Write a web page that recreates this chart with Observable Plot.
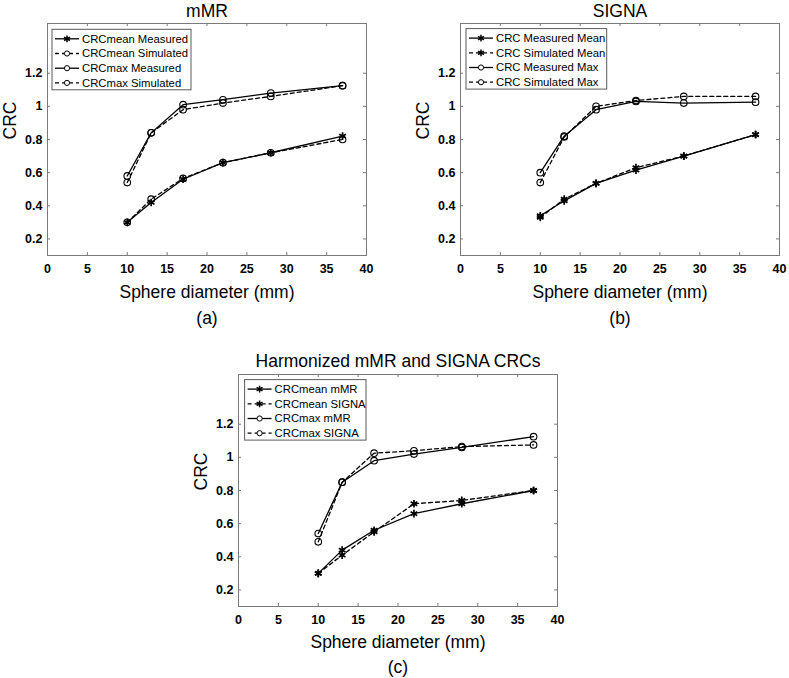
<!DOCTYPE html>
<html><head><meta charset="utf-8">
<script src="https://cdn.jsdelivr.net/npm/d3@7"></script>
<script src="https://cdn.jsdelivr.net/npm/@observablehq/plot@0.6"></script>
<style>
body{margin:0;background:#fff;font-family:"Liberation Sans",Arial,Helvetica,sans-serif;}
#wrap{position:relative;width:789px;height:678px;overflow:hidden;background:#fff;}
.panel{position:absolute;}
.panel svg{overflow:visible;font-family:"Liberation Sans",Arial,Helvetica,sans-serif;}
.panel svg g.legend text{text-anchor:start;}
</style></head><body><div id="wrap"></div>
<script>
// ---- shared axis values ----
const diameters = [10, 13, 17, 22, 28, 37];
const xTicks = [0, 5, 10, 15, 20, 25, 30, 35, 40];
const yTicks = [0.2, 0.4, 0.6, 0.8, 1, 1.2];

// ---- (a) mMR ----
const titleA = "mMR";
const labelsA = ["CRCmean Measured", "CRCmean Simulated", "CRCmax Measured", "CRCmax Simulated"];
const mmrMeanMeasured  = [0.30, 0.42, 0.56, 0.66, 0.72, 0.82];
const mmrMeanSimulated = [0.30, 0.44, 0.565, 0.66, 0.72, 0.80];
const mmrMaxMeasured   = [0.58, 0.84, 1.01, 1.04, 1.08, 1.125];
const mmrMaxSimulated  = [0.54, 0.84, 0.98, 1.02, 1.06, 1.125];

// ---- (b) SIGNA ----
const titleB = "SIGNA";
const labelsB = ["CRC Measured Mean", "CRC Simulated Mean", "CRC Measured Max", "CRC Simulated Max"];
const signaMeanMeasured  = [0.34, 0.43, 0.535, 0.615, 0.70, 0.83];
const signaMeanSimulated = [0.33, 0.44, 0.535, 0.63, 0.70, 0.83];
const signaMaxMeasured   = [0.60, 0.82, 0.98, 1.03, 1.02, 1.025];
const signaMaxSimulated  = [0.54, 0.815, 1.00, 1.035, 1.06, 1.06];

// ---- (c) Harmonized ----
const titleC = "Harmonized mMR and SIGNA CRCs";
const labelsC = ["CRCmean mMR", "CRCmean SIGNA", "CRCmax mMR", "CRCmax SIGNA"];
const harmMeanMMR   = [0.30, 0.44, 0.56, 0.66, 0.72, 0.80];
const harmMeanSIGNA = [0.30, 0.41, 0.55, 0.72, 0.74, 0.80];
const harmMaxMMR    = [0.54, 0.85, 0.98, 1.02, 1.06, 1.125];
const harmMaxSIGNA  = [0.49, 0.85, 1.025, 1.04, 1.065, 1.075];

const xLabel = "Sphere diameter (mm)";
const yLabel = "CRC";

const FONT = '"Liberation Sans",Arial,Helvetica,sans-serif';
const frameColor = "#7a7a7a";

function makePanel(cfg) {
  const {left, top, width, height, mL, mR, mT, mB, title, caption, series, legend, titleDy, xLabelDy, captionDy} = cfg;
  const fw = width - mL - mR, fh = height - mT - mB;
  const marks = [
    Plot.frame({stroke: frameColor, strokeWidth: 1}),
    // inward ticks on all four sides
    Plot.tickX(xTicks, {x: d => d, stroke: frameColor, insetTop: fh - 3}),
    Plot.tickX(xTicks, {x: d => d, stroke: frameColor, insetBottom: fh - 3}),
    Plot.tickY(yTicks, {y: d => d, stroke: frameColor, insetLeft: fw - 3}),
    Plot.tickY(yTicks, {y: d => d, stroke: frameColor, insetRight: fw - 3}),
    // bold tick labels
    Plot.text(xTicks, {x: d => d, text: d => String(d), frameAnchor: "bottom", dy: 13, fontSize: 12.5, fontWeight: "bold", lineAnchor: "middle"}),
    Plot.text(yTicks, {y: d => d, text: d => String(d), frameAnchor: "left", dx: -5, textAnchor: "end", fontSize: 12.5, fontWeight: "bold", lineAnchor: "middle"}),
    Plot.text([title], {text: d => d, frameAnchor: "top", dy: titleDy, fontSize: 17.5, lineAnchor: "middle"}),
    Plot.text([xLabel], {text: d => d, frameAnchor: "bottom", dy: xLabelDy, fontSize: 17.5, lineAnchor: "middle"}),
    Plot.text([caption], {text: d => d, frameAnchor: "bottom", dy: captionDy, fontSize: 17.5, lineAnchor: "middle"}),
    Plot.text([yLabel], {text: d => d, frameAnchor: "left", dx: -37, rotate: -90, fontSize: 17.5, lineAnchor: "middle"})
  ];
  for (const s of series) {
    const rows = diameters.map((d, i) => ({d, v: s.values[i]}));
    marks.push(Plot.line(rows, {x: "d", y: "v", stroke: "black", strokeWidth: 1.3, strokeDasharray: s.dashed ? "4,3" : null}));
  }
  for (const s of series) {
    const rows = diameters.map((d, i) => ({d, v: s.values[i]}));
    if (s.symbol === "asterisk") {
      marks.push(Plot.dot(rows, {x: "d", y: "v", symbol: "asterisk", r: 3.6, stroke: "black", strokeWidth: 1.7, fill: "none"}));
    } else {
      marks.push(Plot.dot(rows, {x: "d", y: "v", symbol: "circle", r: 3.3, stroke: "black", strokeWidth: 1.1, fill: "none"}));
    }
  }
  const svg = Plot.plot({
    width, height,
    marginLeft: mL, marginRight: mR, marginTop: mT, marginBottom: mB,
    style: {fontFamily: FONT, color: "black", background: "transparent"},
    x: {domain: [0, 40], axis: null},
    y: {domain: [0.1, 1.5], axis: null},
    marks
  });
  // legend box (MATLAB style)
  const g = d3.select(svg).append("g")
    .attr("class", "legend")
    .attr("transform", `translate(${mL + legend.dx},${mT + legend.dy})`)
    .attr("font-family", FONT)
    .attr("text-anchor", "start");
  g.append("rect").attr("width", legend.w).attr("height", 60.5)
    .attr("fill", "white").attr("stroke", "#5a5a5a").attr("stroke-width", 1);
  series.forEach((s, i) => {
    const y = 9.5 + i * 14.7;
    g.append("line").attr("x1", 3).attr("x2", 27).attr("y1", y).attr("y2", y)
      .attr("stroke", "black").attr("stroke-width", 1.3)
      .attr("stroke-dasharray", s.dashed ? "4,3" : null);
    const sym = s.symbol === "asterisk"
      ? d3.symbol(d3.symbolAsterisk, Math.PI * 3.2 * 3.2)
      : d3.symbol(d3.symbolCircle, Math.PI * 2.6 * 2.6);
    g.append("path").attr("d", sym()).attr("transform", `translate(15,${y})`)
      .attr("fill", s.symbol === "asterisk" ? "none" : "white")
      .attr("stroke", "black").attr("stroke-width", s.symbol === "asterisk" ? 1.5 : 1);
    g.append("text").attr("x", 30).attr("y", y).attr("dy", "0.35em")
      .attr("text-anchor", "start")
      .attr("font-size", 11.3).attr("fill", "black").text(s.label);
  });
  const div = document.createElement("div");
  div.className = "panel";
  div.style.left = left + "px";
  div.style.top = top + "px";
  div.appendChild(svg);
  document.getElementById("wrap").appendChild(div);
}

makePanel({
  left: 0, top: 0, width: 390, height: 330, mL: 47, mR: 24, mT: 23, mB: 75,
  title: titleA, caption: "(a)", titleDy: -12, xLabelDy: 37, captionDy: 63,
  legend: {dx: 5, dy: 6.3, w: 139},
  series: [
    {label: labelsA[0], values: mmrMeanMeasured, dashed: false, symbol: "asterisk"},
    {label: labelsA[1], values: mmrMeanSimulated, dashed: true, symbol: "circle"},
    {label: labelsA[2], values: mmrMaxMeasured, dashed: false, symbol: "circle"},
    {label: labelsA[3], values: mmrMaxSimulated, dashed: true, symbol: "circle"}
  ]
});

makePanel({
  left: 399, top: 0, width: 390, height: 330, mL: 61, mR: 10, mT: 23, mB: 75,
  title: titleB, caption: "(b)", titleDy: -12, xLabelDy: 37, captionDy: 63,
  legend: {dx: 6, dy: 5.6, w: 140.7},
  series: [
    {label: labelsB[0], values: signaMeanMeasured, dashed: false, symbol: "asterisk"},
    {label: labelsB[1], values: signaMeanSimulated, dashed: true, symbol: "asterisk"},
    {label: labelsB[2], values: signaMaxMeasured, dashed: false, symbol: "circle"},
    {label: labelsB[3], values: signaMaxSimulated, dashed: true, symbol: "circle"}
  ]
});

makePanel({
  left: 190, top: 340, width: 391, height: 338, mL: 48, mR: 24, mT: 34, mB: 72,
  title: titleC, caption: "(c)", titleDy: -12.7, xLabelDy: 36, captionDy: 61,
  legend: {dx: 6.6, dy: 5.6, w: 121.4},
  series: [
    {label: labelsC[0], values: harmMeanMMR, dashed: false, symbol: "asterisk"},
    {label: labelsC[1], values: harmMeanSIGNA, dashed: true, symbol: "asterisk"},
    {label: labelsC[2], values: harmMaxMMR, dashed: false, symbol: "circle"},
    {label: labelsC[3], values: harmMaxSIGNA, dashed: true, symbol: "circle"}
  ]
});
</script></body></html>
